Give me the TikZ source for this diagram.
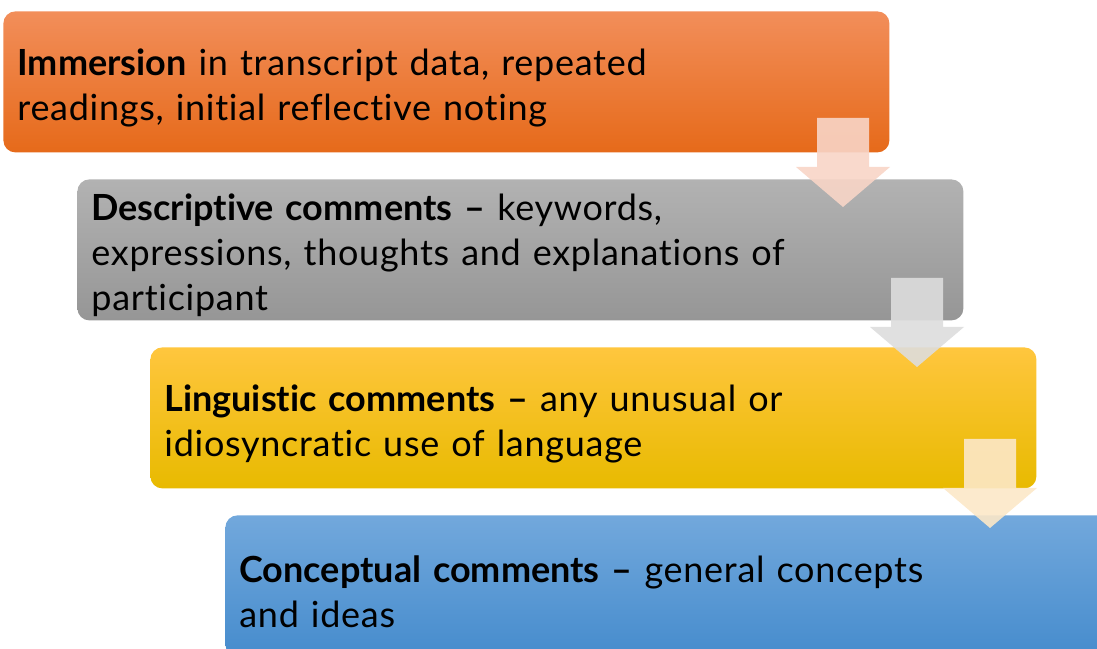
\documentclass[tikz,border=0pt]{standalone}
\usepackage{fontspec}
\setmainfont{Lato}[Ligatures=NoCommon, LetterSpace=2, BoldFeatures={LetterSpace=0}]
\usepackage{xcolor}
\definecolor{orangetop}{RGB}{242,142,90}
\definecolor{orangemid}{RGB}{240,121,38}
\definecolor{orangebot}{RGB}{230,106,26}
\definecolor{graytop}{RGB}{178,178,178}
\definecolor{graybot}{RGB}{150,150,150}
\definecolor{yellowtop}{RGB}{255,198,62}
\definecolor{yellowmid}{RGB}{255,194,0}
\definecolor{yellowbot}{RGB}{232,186,0}
\definecolor{bluetop}{RGB}{114,168,220}
\definecolor{bluebot}{RGB}{70,140,205}
\definecolor{peach}{RGB}{248,213,199}
\definecolor{silver}{RGB}{221,221,221}
\definecolor{cream}{RGB}{252,232,200}

\begin{document}
\begin{tikzpicture}[
        stagebox/.style={shape=rectangle, rounded corners=6pt, anchor=north west,
            minimum width=443pt, minimum height=70.5pt, text width=429pt,
            inner xsep=7pt, inner ysep=0pt, align=left,
            font=\fontsize{18}{22.5}\selectfont,
            execute at begin node={\rule{0pt}{19pt}}},
        stagearrow/.style={fill opacity=0.9}
        ]

        %% Frame
        \useasboundingbox (0pt, 0pt) rectangle (548.5pt, 324pt);
        \clip (0pt, 0pt) rectangle (548.5pt, 324pt);

        %% Stages
        \node[stagebox, top color=orangetop, middle color=orangemid, bottom color=orangebot] (immersion) at (1.5pt, 318.5pt)
            {\textbf{Immersion} in transcript data, repeated\\readings, initial reflective noting};
        \node[stagebox, top color=graytop, bottom color=graybot] (descriptive) at (38.5pt, 234.5pt)
            {\textbf{Descriptive comments --} keywords,\\expressions, thoughts and explanations of\\participant};
        \node[stagebox, top color=yellowtop, middle color=yellowmid, bottom color=yellowbot] (linguistic) at (75pt, 150.5pt)
            {\textbf{Linguistic comments --} any unusual or\\idiosyncratic use of language};
        \node[stagebox, top color=bluetop, bottom color=bluebot] (conceptual) at (112.5pt, 66.5pt)
            {\textbf{Conceptual comments --} general concepts\\and ideas};

        %% Down arrows between stages
        \foreach \x/\y/\col in {408.5pt/265pt/peach, 445.5pt/185pt/silver, 482pt/104.5pt/cream} {
            \fill[stagearrow, \col] (\x, \y) -- ++(26pt, 0pt) -- ++(0pt, -24.5pt) -- ++(10.5pt, 0pt)
                -- ++(-23.5pt, -20pt) -- ++(-23.5pt, 20pt) -- ++(10.5pt, 0pt) -- cycle;
        }
\end{tikzpicture}
\end{document}
